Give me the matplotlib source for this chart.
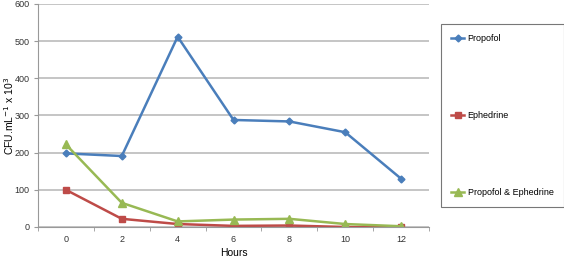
import matplotlib
matplotlib.use("Agg")
import matplotlib.pyplot as plt

plt.rcParams['font.family'] = ['Liberation Sans', 'DejaVu Sans']

hours = ['0', '2', '4', '6', '8', '10', '12']
propofol = [198, 191, 512, 288, 284, 255, 130]
ephedrine = [100, 22, 8, 3, 4, 0, -1]
prop_eph = [222, 65, 15, 20, 22, 8, 2]

fig = plt.figure(figsize=(5.64, 2.58), dpi=100)
ax = fig.add_axes([38 / 564, 1 - 227 / 258, (429 - 38) / 564, (227 - 4) / 258])

x = range(len(hours))
ax.plot(x, propofol, color='#4a7ebb', marker='D', markersize=3.5, lw=1.8, label='Propofol')
ax.plot(x, ephedrine, color='#be4b48', marker='s', markersize=5, lw=1.8, label='Ephedrine')
ax.plot(x, prop_eph, color='#98b954', marker='^', markersize=5.5, lw=1.8, label='Propofol & Ephedrine')

ax.set_xlim(-0.5, len(hours) - 0.5)
ax.set_ylim(0, 600)
ax.set_yticks(range(0, 601, 100))
ax.set_xticks(list(x))
ax.set_xticklabels(hours)
ax.set_xticks([i - 0.5 for i in range(len(hours) + 1)], minor=True)
ax.tick_params(axis='x', which='major', length=0, labelsize=6.5, pad=6, colors='#333333')
ax.tick_params(axis='x', which='minor', length=3, color='#999999', direction='out')
ax.tick_params(axis='y', length=3, color='#999999', labelsize=6.5, colors='#333333', pad=3)
ax.grid(axis='y', color='#bbbbbb', lw=1.2)
ax.set_axisbelow(True)
for s in ['top', 'right']:
    ax.spines[s].set_visible(False)
for s in ['left', 'bottom']:
    ax.spines[s].set_color('#999999')

ax.set_xlabel('Hours', fontsize=7.5, labelpad=3)
ax.set_ylabel('CFU.mL$^{-1}$ x 10$^{3}$', fontsize=7.5, va='center')
ax.yaxis.set_label_coords(-0.075, 0.5)

leg = fig.legend(loc='upper left', bbox_to_anchor=(441 / 564, 1 - 24 / 258),
                 fontsize=6.5, frameon=True, fancybox=False, labelspacing=7.5,
                 handlelength=1.4, handletextpad=0.4, borderpad=1.15, borderaxespad=0)
leg.get_frame().set_edgecolor('#555555')
leg.get_frame().set_linewidth(0.8)

fig.savefig('out.png', dpi=100)
